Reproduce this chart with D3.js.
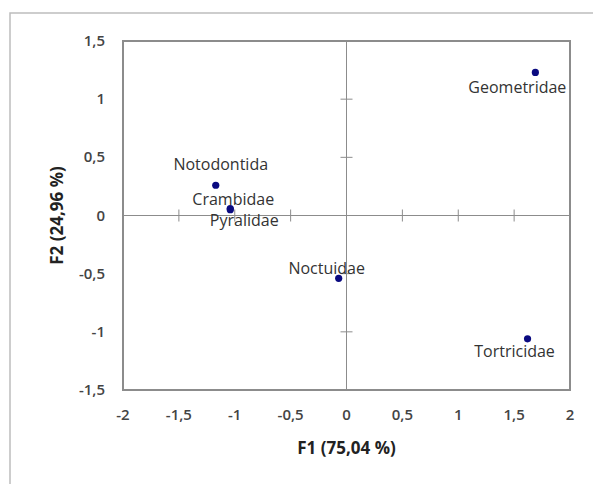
<!DOCTYPE html>
<html>
<head>
<meta charset="utf-8">
<script src="https://cdn.jsdelivr.net/npm/d3@7"></script>
<style>
  body { margin: 0; background: #fff; }
  text { font-family: "Open Sans", "Noto Sans", sans-serif; }
</style>
</head>
<body>
<div id="chart"></div>
<script>
// data
const families = ['Geometridae', 'Tortricidae', 'Noctuidae', 'Notodontida', 'Crambidae', 'Pyralidae']
const f1 = [1.69, 1.62, -0.07, -1.17, -1.04, -1.04]
const f2 = [1.23, -1.06, -0.54, 0.26, 0.06, 0.05]
const xTicks = [-2, -1.5, -1, -0.5, 0, 0.5, 1, 1.5, 2]
const yTicks = [-1.5, -1, -0.5, 0, 0.5, 1, 1.5]
const xTitle = 'F1 (75,04 %)'
const yTitle = 'F2 (24,96 %)'

// label offsets relative to each point (px)
const labelPos = [
  {dx: -18, dy: 21},
  {dx: -13, dy: 18},
  {dx: -12, dy: -4},
  {dx: 5, dy: -15},
  {dx: 3, dy: -4},
  {dx: 14, dy: 16}
]

const width = 593, height = 484
const margin = {top: 41, right: 23, bottom: 94, left: 123}

const svg = d3.select('#chart').append('svg')
  .attr('width', width)
  .attr('height', height)

const fmt = d => String(d).replace('.', ',')

// outer frame of the chart object
svg.append('path')
  .attr('d', `M10,${height} V13 H${width}`)
  .attr('fill', 'none')
  .attr('stroke', '#bdbdbd')
  .attr('stroke-width', 1.5)

const x = d3.scaleLinear().domain([-2, 2]).range([margin.left, width - margin.right])
const y = d3.scaleLinear().domain([-1.5, 1.5]).range([height - margin.bottom, margin.top])

// plot border
svg.append('rect')
  .attr('x', x(-2))
  .attr('y', y(1.5))
  .attr('width', x(2) - x(-2))
  .attr('height', y(-1.5) - y(1.5))
  .attr('fill', 'none')
  .attr('stroke', '#8c8c8c')
  .attr('stroke-width', 2)

// zero axes with crossing ticks
const axisG = svg.append('g').attr('stroke', '#8c8c8c').attr('stroke-width', 1)
axisG.append('line').attr('x1', x(-2)).attr('x2', x(2)).attr('y1', y(0)).attr('y2', y(0))
axisG.append('line').attr('x1', x(0)).attr('x2', x(0)).attr('y1', y(-1.5)).attr('y2', y(1.5))

axisG.selectAll('.xt')
  .data(xTicks.filter(d => d !== 0 && Math.abs(d) !== 2))
  .join('line')
  .attr('x1', d => x(d)).attr('x2', d => x(d))
  .attr('y1', y(0) - 6).attr('y2', y(0) + 6)

axisG.selectAll('.yt')
  .data(yTicks.filter(d => d !== 0 && Math.abs(d) !== 1.5))
  .join('line')
  .attr('y1', d => y(d)).attr('y2', d => y(d))
  .attr('x1', x(0) - 6).attr('x2', x(0) + 6)

// tick labels
svg.append('g').selectAll('text')
  .data(xTicks)
  .join('text')
  .attr('x', d => x(d))
  .attr('y', 420)
  .attr('text-anchor', 'middle')
  .attr('font-size', 15)
  .attr('font-weight', 600)
  .attr('fill', '#444')
  .text(fmt)

svg.append('g').selectAll('text')
  .data(yTicks)
  .join('text')
  .attr('x', 105)
  .attr('y', d => y(d) + 5)
  .attr('text-anchor', 'end')
  .attr('font-size', 15)
  .attr('font-weight', 600)
  .attr('fill', '#444')
  .text(fmt)

// axis titles
svg.append('text')
  .attr('x', x(0))
  .attr('y', 454)
  .attr('text-anchor', 'middle')
  .attr('font-size', 17)
  .attr('font-weight', 'bold')
  .attr('fill', '#222')
  .text(xTitle)

svg.append('text')
  .attr('transform', `translate(63,${y(0)}) rotate(-90)`)
  .attr('text-anchor', 'middle')
  .attr('font-size', 17)
  .attr('font-weight', 'bold')
  .attr('fill', '#222')
  .text(yTitle)

// points
const pts = families.map((name, i) => ({name, f1: f1[i], f2: f2[i], lp: labelPos[i]}))

svg.append('g').selectAll('circle')
  .data(pts)
  .join('circle')
  .attr('cx', d => x(d.f1))
  .attr('cy', d => y(d.f2))
  .attr('r', 3.6)
  .attr('fill', '#0a0a80')

svg.append('g').selectAll('text')
  .data(pts)
  .join('text')
  .attr('x', d => x(d.f1) + d.lp.dx)
  .attr('y', d => y(d.f2) + d.lp.dy)
  .attr('text-anchor', 'middle')
  .attr('font-size', 16)
  .attr('fill', '#333')
  .text(d => d.name)
</script>
</body>
</html>
